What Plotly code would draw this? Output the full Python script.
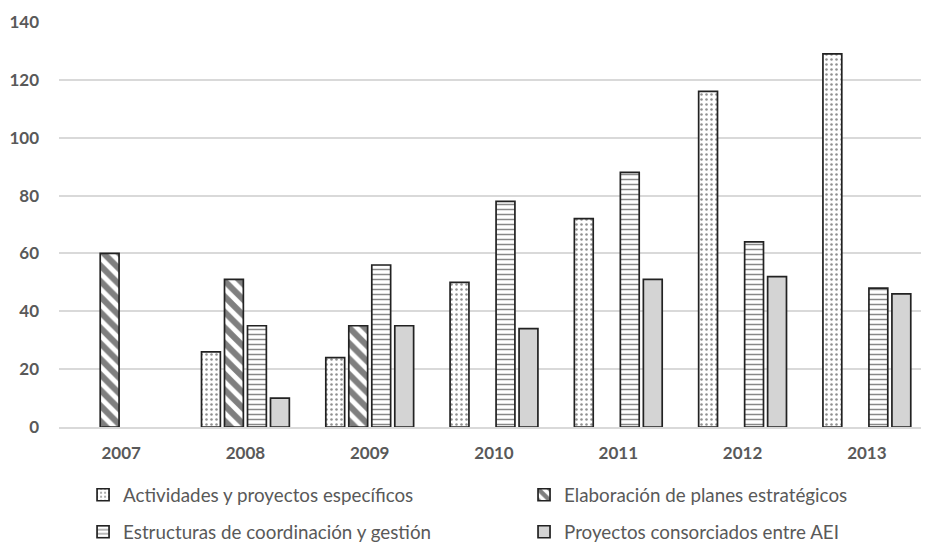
import plotly.graph_objects as go

years = ["2007", "2008", "2009", "2010", "2011", "2012", "2013"]
actividades = [0, 26, 24, 50, 72, 116, 129]
elaboracion = [60, 51, 35, 0, 0, 0, 0]
estructuras = [0, 35, 56, 78, 88, 64, 48]
proyectos = [0, 10, 35, 34, 51, 52, 46]

names = [
    "Actividades y proyectos específicos",
    "Elaboración de planes estratégicos",
    "Estructuras de coordinación y gestión",
    "Proyectos consorciados entre AEI",
]
series = [actividades, elaboracion, estructuras, proyectos]

outline = "#222222"
patterns = [
    dict(shape=".", fgcolor="#222222", bgcolor="white", size=5, solidity=0.2),
    dict(shape="\\", fgcolor="#000000", bgcolor="white", size=11, solidity=0.55),
    dict(shape="-", fgcolor="#111111", bgcolor="white", size=5, solidity=0.3),
    None,
]
fills = ["white", "white", "white", "#d4d4d4"]
legend_ids = ["legend", "legend2", "legend3", "legend4"]

fig = go.Figure()
for name, vals, pat, fill, lg in zip(names, series, patterns, fills, legend_ids):
    vals_plot = [v if v > 0 else None for v in vals]
    marker = dict(color=fill, line=dict(color=outline, width=1.7))
    if pat is not None:
        marker["pattern"] = pat
    fig.add_trace(go.Bar(x=years, y=vals_plot, name=name, marker=marker,
                         legend=lg, showlegend=True, hoverinfo="x+y+name"))

font_family = "Lato, 'Open Sans', sans-serif"
text_color = "#595959"

legend_pos = [(0.0815, 0.088), (0.5603, 0.088), (0.0815, 0.0187), (0.5603, 0.0187)]
legend_layout = {}
for lg, (lx, ly) in zip(legend_ids, legend_pos):
    legend_layout[lg] = dict(
        orientation="h", x=lx, y=ly, xref="container", yref="container",
        xanchor="left", yanchor="middle", visible=True,
        font=dict(size=18.8, color=text_color, family=font_family),
        bgcolor="rgba(0,0,0,0)",
    )

fig.update_layout(
    width=921, height=534,
    margin=dict(l=51, r=0, t=14, b=115),
    paper_bgcolor="white", plot_bgcolor="white",
    showlegend=True,
    barmode="group", bargap=0.26, bargroupgap=0.18,
    font=dict(family=font_family, color=text_color),
    xaxis=dict(
        showgrid=False, showline=True, linecolor="#d9d9d9", linewidth=1.5,
        tickfont=dict(size=17, color=text_color, family=font_family, weight="bold"),
        ticks="", ticklabelstandoff=10,
    ),
    yaxis=dict(
        range=[0, 140], dtick=20, showgrid=True, gridcolor="#d9d9d9", gridwidth=1.5,
        zeroline=False, showline=False,
        tickfont=dict(size=17, color=text_color, family=font_family, weight="bold"),
        ticks="", ticklabelstandoff=19,
    ),
    **legend_layout,
)

fig.write_html("out.html")
